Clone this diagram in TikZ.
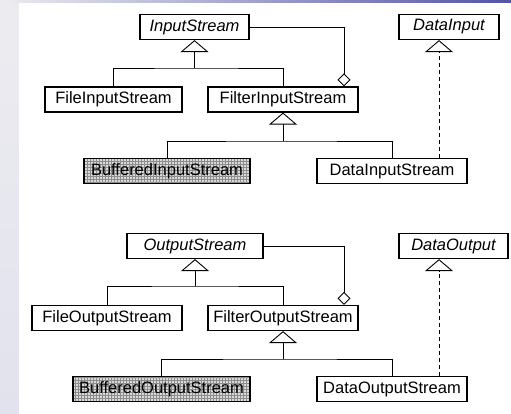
\documentclass[tikz,border=0pt]{standalone}
\usepackage{fontspec}
\setmainfont{Liberation Sans}
\usetikzlibrary{arrows.meta,patterns}

\definecolor{slidebar}{RGB}{84,84,166}
\definecolor{slideside}{RGB}{236,236,240}
\definecolor{slidelow}{RGB}{226,226,238}

\tikzset{
  cls/.style={draw, line width=1.2pt, inner sep=0pt, minimum height=25pt,
    font=\fontsize{16.5}{18}\selectfont},
  abstract/.style={cls, font=\fontsize{16.5}{18}\selectfont\itshape},
  decorator/.style={cls, preaction={fill=gray!30}, pattern=grid, pattern color=gray!90},
  assoc/.style={line width=0.9pt},
  gen/.style={assoc, -{Triangle[open, width=28pt, length=12pt]}},
  realize/.style={gen, dashed, dash pattern=on 4pt off 3pt},
  aggr/.style={assoc, {Diamond[open, width=13pt, length=13pt]}-}
}

\begin{document}
\begin{tikzpicture}[x=1pt, y=-1pt]
  % slide background
  \useasboundingbox (0,0) rectangle (511,413);
  \shade[top color=slideside, bottom color=slidelow] (0,0) rectangle (19,413);
  \shade[left color=slideside, right color=slidebar] (0,0) rectangle (511,3);
  \fill[white] (19,3) rectangle (511,413);

  % input streams
  \node [abstract, minimum width=109pt] (is) at (194.5,27) {InputStream};
  \node [abstract, minimum width=100pt] (di) at (449,27) {DataInput};
  \node [cls, minimum width=137pt] (fis) at (113.5,99.5) {FileInputStream};
  \node [cls, minimum width=150pt] (fil) at (283,99.5) {FilterInputStream};
  \node [decorator, minimum width=166pt] (bis) at (167,171) {BufferedInputStream};
  \node [cls, minimum width=150pt] (dis) at (392,171) {DataInputStream};
  \coordinate (isj) at (194.5,68);
  \coordinate (filj) at (283,141);
  \draw [assoc] (fis.north) |- (isj) -| (fil.north);
  \draw [gen] (isj) -- (is.south);
  \draw [assoc] (bis.north) |- (filj) -| (dis.north);
  \draw [gen] (filj) -- (fil.south);
  \draw [aggr] ([xshift=61pt]fil.north) |- (is.east);
  \draw [realize] ([xshift=47pt]dis.north) -- ([xshift=-10pt]di.south);

  % output streams
  \node [abstract, minimum width=136pt] (os) at (195,246) {OutputStream};
  \node [abstract, minimum width=109pt] (dout) at (453.5,246) {DataOutput};
  \node [cls, minimum width=150pt] (fos) at (107,318) {FileOutputStream};
  \node [cls, minimum width=150pt] (fol) at (283,318) {FilterOutputStream};
  \node [decorator, minimum width=177pt] (bos) at (161.5,389) {BufferedOutputStream};
  \node [cls, minimum width=150pt] (dos) at (392,389) {DataOutputStream};
  \coordinate (osj) at (195,286);
  \coordinate (folj) at (283,359);
  \draw [assoc] (fos.north) |- (osj) -| (fol.north);
  \draw [gen] (osj) -- (os.south);
  \draw [assoc] (bos.north) |- (folj) -| (dos.north);
  \draw [gen] (folj) -- (fol.south);
  \draw [aggr] ([xshift=61pt]fol.north) |- (os.east);
  \draw [realize] ([xshift=47pt]dos.north) -- ([xshift=-14.5pt]dout.south);
\end{tikzpicture}
\end{document}
